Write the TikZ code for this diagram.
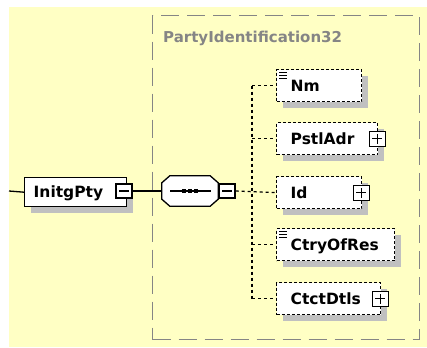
\documentclass[tikz,border=0pt]{standalone}
\usepackage{fontspec}
\setmainfont{DejaVu Sans}
\usetikzlibrary{shadows}
\definecolor{bgyellow}{HTML}{FFFFC4}
\definecolor{shadowgray}{HTML}{C0C0C0}
\definecolor{groupgray}{HTML}{858585}
\tikzset{
  myshadow/.style={drop shadow={shadow xshift=6pt, shadow yshift=-6pt, fill=shadowgray, opacity=1, draw=none}},
  elem/.style={draw, dash pattern=on 3pt off 2pt, line width=1.3pt, fill=white,
    minimum height=32pt, inner ysep=0pt, inner xsep=14pt, text height=11.5pt, text depth=0pt,
    align=left, anchor=north west, myshadow},
  mainelem/.style={draw, solid, line width=1.4pt, fill=white,
    minimum height=29pt, inner ysep=0pt, inner xsep=9pt, text height=11.5pt, text depth=0pt,
    align=left, anchor=north west, myshadow},
  iconbox/.style={draw, solid, line width=1.1pt, fill=white, minimum width=16pt, minimum height=15pt, inner sep=0pt},
  plusicon/.style={iconbox, path picture={
    \draw[line width=1.1pt] ([xshift=-5pt]path picture bounding box.center) -- ([xshift=5pt]path picture bounding box.center);
    \draw[line width=1.1pt] ([yshift=-5pt]path picture bounding box.center) -- ([yshift=5pt]path picture bounding box.center);}},
  minusicon/.style={iconbox, minimum height=14pt, path picture={
    \draw[line width=1.1pt] ([xshift=-5pt]path picture bounding box.center) -- ([xshift=5pt]path picture bounding box.center);}},
  dconn/.style={draw, line width=1.3pt, dash pattern=on 3pt off 3pt},
  sconn/.style={draw, line width=1.3pt},
  groupbox/.style={draw=groupgray, line width=1.4pt, dash pattern=on 18pt off 8pt, inner sep=0pt, anchor=north west},
  grouptitle/.style={text=groupgray, anchor=base west, inner sep=0pt, font=\bfseries\fontsize{15}{18}\selectfont},
  docline/.style={line width=0.9pt},
}
\begin{document}
\begin{tikzpicture}[x=1pt, y=-1pt, font=\bfseries\fontsize{15.5}{18}\selectfont]
\useasboundingbox (0,0) rectangle (427,347);
\fill[bgyellow] (9,7) rectangle (427,347);

% group container
\node[groupbox, minimum width=267pt, minimum height=324pt] (grp) at (152,15) {};
\node[grouptitle] (ttl) at (163,43) {PartyIdentification32};

% main element
\node[mainelem, text width=84pt] (initg) at (24,177) {InitgPty};
\node[minusicon] (initgm) at (124,191) {};

% sequence compositor
\node[inner sep=0pt, minimum width=56pt, minimum height=30pt] (seq) at (190,191) {};
\fill[shadowgray, shift={(6,6)}]
  ([xshift=8pt]seq.north west) -- ([xshift=-8pt]seq.north east) -- ([yshift=-7pt]seq.north east)
  -- ([yshift=7pt]seq.south east) -- ([xshift=-8pt]seq.south east) -- ([xshift=8pt]seq.south west)
  -- ([yshift=7pt]seq.south west) -- ([yshift=-7pt]seq.north west) -- cycle;
\draw[line width=1.3pt, fill=white]
  ([xshift=8pt]seq.north west) -- ([xshift=-8pt]seq.north east) -- ([yshift=-7pt]seq.north east)
  -- ([yshift=7pt]seq.south east) -- ([xshift=-8pt]seq.south east) -- ([xshift=8pt]seq.south west)
  -- ([yshift=7pt]seq.south west) -- ([yshift=-7pt]seq.north west) -- cycle;
\draw[line width=1.2pt] ([xshift=-20pt]seq.center) -- ([xshift=21pt]seq.center);
\foreach \dx in {-6,0,6} {
  \fill ([shift={(\dx-2,-2)}]seq.center) rectangle ([shift={(\dx+2,2)}]seq.center);
}
\node[minusicon] (seqm) at (227,191) {};

% child elements
\node[elem, text width=57pt] (nm) at (276,69) {Nm};
\node[elem, text width=73pt] (pstl) at (276,122) {PstlAdr};
\node[elem, text width=57pt] (id) at (276,176) {Id};
\node[elem, text width=90pt] (ctry) at (276,228) {CtryOfRes};
\node[elem, text width=76pt] (ctct) at (276,282) {CtctDtls};

\node[plusicon] (pstlp) at ([xshift=-1pt]pstl.east) {};
\node[plusicon] (idp) at ([xshift=-1pt]id.east) {};
\node[plusicon] (ctctp) at ([xshift=-1pt]ctct.east) {};

% document icons
\foreach \n in {nm,ctry} {
  \foreach \dy in {3,6,9} {
    \draw[docline] ([shift={(3,\dy)}]\n.north west) -- ++(8,0);
  }
}

% connectors
\coordinate (start) at (9,191);
\coordinate (j) at (252,191);
\coordinate (jt) at (j |- nm.west);
\coordinate (jb) at (j |- ctct.west);
\draw[sconn] (start) -- (initg.west);
\draw[sconn] (initgm.east) -- (seq.west);
\draw[dconn] (seqm.east) -- (id.west);
\draw[dconn] (jt) -- (jb);
\draw[dconn] (jt) -- (nm.west);
\draw[dconn] (j |- pstl.west) -- (pstl.west);
\draw[dconn] (j |- ctry.west) -- (ctry.west);
\draw[dconn] (jb) -- (ctct.west);
\end{tikzpicture}
\end{document}
